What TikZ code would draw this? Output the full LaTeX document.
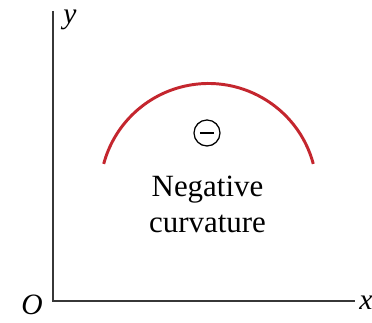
\documentclass[tikz,border=0pt]{standalone}
\usepackage{fontspec}
\setmainfont{Liberation Serif}
\usepackage{tikz}
\usetikzlibrary{calc,positioning}
\definecolor{curvred}{RGB}{196,38,46}
\definecolor{axisgray}{RGB}{55,55,55}
\tikzset{
  axis/.style={line width=1.8pt,axisgray},
  curve/.style={line width=2.1pt,curvred},
  sign/.style={circle,draw,line width=0.9pt,minimum size=6.5mm,inner sep=0pt},
  lbl/.style={font=\fontsize{22}{26}\selectfont,inner sep=0pt},
  axlbl/.style={lbl,font=\fontsize{21}{25}\selectfont\itshape},
}

\begin{document}
\begin{tikzpicture}[x=0.25mm,y=0.25mm]
    \useasboundingbox (0,0) rectangle (372,323);
    % axes
    \coordinate (O) at (53,22);
    \coordinate (ytop) at (53,312);
    \coordinate (xend) at (355,22);
    \draw[axis] (ytop) |- (xend);
    \node[axlbl,anchor=base west] (ylab) at (63,299) {y};
    \node[axlbl,anchor=base west] (xlab) at (359,13) {x};
    \node[axlbl,anchor=base] (olab) at (32,8) {O};
    % the curve
    \coordinate (c) at (208.5,131);
    \draw[curve] ($(c)+(15:108.5)$) arc[start angle=15,end angle=165,radius=108.5];
    \node[sign] (minus) at (207,190) {\rule{3.6mm}{0.32mm}};
    \node[lbl,anchor=base] (neg) at (207.5,126) {Negative};
    \node[lbl,anchor=base] (curv) at (207.5,90) {curvature};
  \end{tikzpicture}
\end{document}
